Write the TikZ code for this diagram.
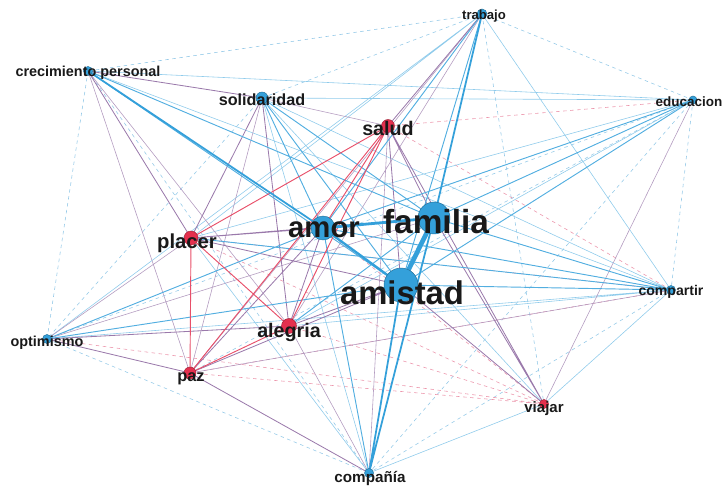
\documentclass[tikz,border=0pt]{standalone}
\usepackage{fontspec}
\setmainfont{Liberation Sans}
\definecolor{azul}{RGB}{52,160,218}
\definecolor{azulclaro}{RGB}{150,202,232}
\definecolor{morado}{RGB}{128,88,150}
\definecolor{rojo}{RGB}{228,48,78}
\definecolor{rosa}{RGB}{236,150,172}
\definecolor{texto}{RGB}{25,25,25}
\tikzset{
  fuerte/.style={azul, line width=1.5pt},
  azulm/.style={azul!85, line width=0.8pt},
  azulf/.style={azul!55, line width=0.5pt},
  moradom/.style={morado!80, line width=0.7pt},
  moradof/.style={morado!60, line width=0.5pt},
  rojom/.style={rojo!85, line width=0.8pt},
  punteado/.style={azulclaro, dashed, line width=0.5pt},
  rosado/.style={rosa, dashed, line width=0.5pt},
  punto/.style={circle, draw=azul!70!black, fill=azul, inner sep=0pt, line width=0.4pt},
  puntor/.style={circle, draw=rojo!70!black, fill=rojo, inner sep=0pt, line width=0.4pt},
  etiq/.style={text=texto, font=\bfseries, inner sep=0pt}
}
\begin{document}
\begin{tikzpicture}[x=0.03cm, y=-0.03cm]
     \useasboundingbox (0,0) rectangle (725,486);
     % posiciones
     \coordinate (trab) at (482,14);
     \coordinate (crec) at (88,71);
     \coordinate (soli) at (262,98);
     \coordinate (educ) at (693,100);
     \coordinate (salu) at (388,126);
     \coordinate (amor) at (323,228);
     \coordinate (fami) at (434,218);
     \coordinate (plac) at (191,238);
     \coordinate (amis) at (401,285);
     \coordinate (aleg) at (289,326);
     \coordinate (comp) at (671,290);
     \coordinate (opti) at (47,339);
     \coordinate (paz) at (190,373);
     \coordinate (viaj) at (544,404);
     \coordinate (comn) at (369,473);
     % aristas tenues
     \draw[punteado] (trab) -- (crec) (trab) -- (educ) (trab) -- (soli) (crec) -- (opti)
          (opti) -- (comn) (educ) -- (comp) (educ) -- (comn) (soli) -- (opti)
          (trab) -- (viaj) (comp) -- (comn) (educ) -- (opti) (crec) -- (comn) (educ) -- (paz);
     \draw[rosado] (plac) -- (viaj) (paz) -- (viaj) (aleg) -- (viaj) (opti) -- (viaj)
          (salu) -- (educ) (salu) -- (comp) (paz) -- (comp) (amor) -- (viaj) (plac) -- (comp);
     \draw[azulf] (crec) -- (educ) (crec) -- (comp) (soli) -- (comp) (soli) -- (educ)
          (trab) -- (comp) (opti) -- (comp) (aleg) -- (comp) (trab) -- (opti)
          (soli) -- (viaj) (educ) -- (aleg) (educ) -- (plac) (comp) -- (viaj)
          (viaj) -- (comn) (plac) -- (comn) (trab) -- (plac) (soli) -- (comn);
     \draw[moradof] (crec) -- (paz) (crec) -- (aleg) (soli) -- (paz) (trab) -- (aleg)
          (plac) -- (opti) (educ) -- (viaj) (trab) -- (paz) (comp) -- (paz)
          (opti) -- (fami) (aleg) -- (comn) (salu) -- (comn) (soli) -- (salu);
     \draw[moradom] (crec) -- (soli) (crec) -- (plac) (soli) -- (plac) (soli) -- (aleg)
          (salu) -- (fami) (salu) -- (amis) (salu) -- (viaj) (trab) -- (salu)
          (amor) -- (plac) (amor) -- (aleg) (amor) -- (paz) (plac) -- (amis)
          (aleg) -- (amis) (paz) -- (amis) (aleg) -- (opti) (opti) -- (paz)
          (paz) -- (comn) (amis) -- (viaj) (fami) -- (viaj) (plac) -- (fami);
     \draw[azulm] (trab) -- (amis) (trab) -- (amor) (crec) -- (fami) (crec) -- (amis)
          (soli) -- (amor) (soli) -- (fami) (soli) -- (amis) (educ) -- (fami)
          (educ) -- (amis) (educ) -- (amor) (amor) -- (opti) (amis) -- (opti)
          (amor) -- (comn) (fami) -- (comp) (amis) -- (comp) (amor) -- (comp)
          (aleg) -- (fami) (plac) -- (comp);
     \draw[rojom] (salu) -- (amor) (salu) -- (plac) (salu) -- (paz) (salu) -- (aleg)
          (plac) -- (paz) (plac) -- (aleg) (aleg) -- (paz);
     \draw[fuerte] (trab) -- (fami) (crec) -- (amor) (amis) -- (comn) (fami) -- (comn);
     \draw[azul, line width=2.4pt] (amor) -- (fami);
     \draw[azul, line width=2pt] (amor) -- (amis);
     \draw[azul, line width=4pt] (fami) -- (amis);
     % nodos
     \node[punto, minimum size=0.30cm] (trab-p) at (trab) {};
     \node[punto, minimum size=0.27cm] (crec-p) at (crec) {};
     \node[punto, minimum size=0.36cm] (soli-p) at (soli) {};
     \node[punto, minimum size=0.24cm] (educ-p) at (educ) {};
     \node[puntor, minimum size=0.39cm] (salu-p) at (salu) {};
     \node[punto, minimum size=0.72cm] (amor-p) at (amor) {};
     \node[punto, minimum size=0.96cm] (fami-p) at (fami) {};
     \node[puntor, minimum size=0.42cm] (plac-p) at (plac) {};
     \node[punto, minimum size=1.02cm] (amis-p) at (amis) {};
     \node[puntor, minimum size=0.45cm] (aleg-p) at (aleg) {};
     \node[punto, minimum size=0.27cm] (comp-p) at (comp) {};
     \node[punto, minimum size=0.27cm] (opti-p) at (opti) {};
     \node[puntor, minimum size=0.36cm] (paz-p) at (paz) {};
     \node[puntor, minimum size=0.27cm] (viaj-p) at (viaj) {};
     \node[punto, minimum size=0.27cm] (comn-p) at (comn) {};
     % etiquetas
     \node[etiq, font=\bfseries\fontsize{11.2}{11}\selectfont] (trab-l) at (484,16) {trabajo};
     \node[etiq, font=\bfseries\fontsize{12.3}{12}\selectfont] (crec-l) at (88,73) {crecimiento personal};
     \node[etiq, font=\bfseries\fontsize{13.8}{13}\selectfont] (soli-l) at (262,100) {solidaridad};
     \node[etiq, font=\bfseries\fontsize{11.5}{11}\selectfont] (educ-l) at (689,102) {educacion};
     \node[etiq, font=\bfseries\fontsize{16.8}{16}\selectfont] (salu-l) at (388,128) {salud};
     \node[etiq, font=\bfseries\fontsize{25}{25}\selectfont] (amor-l) at (324,230) {amor};
     \node[etiq, font=\bfseries\fontsize{28.5}{28}\selectfont] (fami-l) at (436,222) {familia};
     \node[etiq, font=\bfseries\fontsize{17.3}{17}\selectfont] (plac-l) at (187,243) {placer};
     \node[etiq, font=\bfseries\fontsize{28}{27}\selectfont] (amis-l) at (402,293) {amistad};
     \node[etiq, font=\bfseries\fontsize{16.8}{16}\selectfont] (aleg-l) at (289,332) {alegria};
     \node[etiq, font=\bfseries\fontsize{12}{12}\selectfont] (comp-l) at (671,292) {compartir};
     \node[etiq, font=\bfseries\fontsize{12.3}{12}\selectfont] (opti-l) at (47,343) {optimismo};
     \node[etiq, font=\bfseries\fontsize{14}{14}\selectfont] (paz-l) at (191,379) {paz};
     \node[etiq, font=\bfseries\fontsize{12.8}{12}\selectfont] (viaj-l) at (544,409) {viajar};
     \node[etiq, font=\bfseries\fontsize{13}{13}\selectfont] (comn-l) at (370,478) {compañía};
\end{tikzpicture}
\end{document}
